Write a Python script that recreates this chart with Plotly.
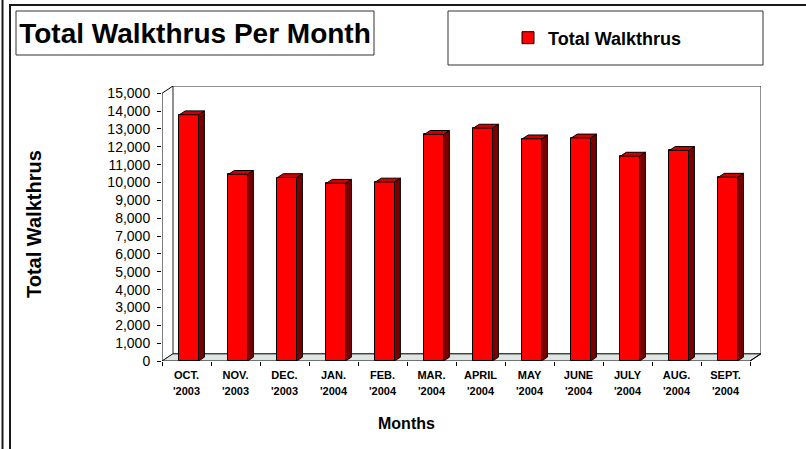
import plotly.graph_objects as go

# ---- data ----
months = ["OCT.", "NOV.", "DEC.", "JAN.", "FEB.", "MAR.", "APRIL", "MAY", "JUNE", "JULY", "AUG.", "SEPT."]
years = ["'2003", "'2003", "'2003", "'2004", "'2004", "'2004", "'2004", "'2004", "'2004", "'2004", "'2004", "'2004"]
walkthrus = [13800, 10460, 10280, 9960, 10030, 12700, 13050, 12450, 12500, 11480, 11800, 10300]
y_ticks = list(range(0, 15001, 1000))

# ---- geometry (3D look) ----
W, H = 806, 449
n = len(months)
xs = list(range(n))
dx, dy = 0.2245, 409          # wall depth offset (data units)
bw = 0.39                      # bar width
bshift = 0.05                  # bar shift to right
bdx, bdy = 0.12, 215           # bar depth offset
ymax = 15000

FONT = "Liberation Sans, Arial, sans-serif"

def px(x):
    return x / W

def py(y):
    return 1 - y / H

fig = go.Figure()

# front faces
fig.add_trace(go.Bar(
    x=xs, y=walkthrus, width=bw, offset=-bw / 2 + bshift,
    marker=dict(color="#ff0000", line=dict(color="#000000", width=1)),
    name="Total Walkthrus", showlegend=True, hoverinfo="skip",
))

# side faces and top faces
sx, sy, tx, ty = [], [], [], []
for i, v in zip(xs, walkthrus):
    r = i + bshift + bw / 2
    l = i + bshift - bw / 2
    sx += [r, r + bdx, r + bdx, r, r, None]
    sy += [0, bdy, v + bdy, v, 0, None]
    tx += [l, r, r + bdx, l + bdx, l, None]
    ty += [v, v, v + bdy, v + bdy, v, None]
fig.add_trace(go.Scatter(x=sx, y=sy, mode="lines", fill="toself", fillcolor="#7a0000",
                         line=dict(color="#000000", width=1), showlegend=False, hoverinfo="skip"))
fig.add_trace(go.Scatter(x=tx, y=ty, mode="lines", fill="toself", fillcolor="#d00000",
                         line=dict(color="#000000", width=1), showlegend=False, hoverinfo="skip"))

x0, x1 = -0.5, n - 0.5
shapes = [
    # floor
    dict(type="path", xref="x", yref="y", layer="below",
         path=f"M{x0},0 L{x1},0 L{x1+dx},{dy} L{x0+dx},{dy} Z",
         fillcolor="#dfe5e2", line=dict(color="#000000", width=1)),
    # back wall
    dict(type="rect", xref="x", yref="y", layer="below",
         x0=x0 + dx, x1=x1 + dx, y0=dy, y1=ymax + dy,
         fillcolor="#ffffff", line=dict(color="#222222", width=1)),
    # value axis line with slant to wall
    dict(type="path", xref="x", yref="y", layer="above",
         path=f"M{x0},0 L{x0},{ymax} L{x0+dx},{ymax+dy}",
         line=dict(color="#000000", width=1)),
    # right floor edge
    dict(type="line", xref="x", yref="y", x0=x1, y0=0, x1=x1 + dx, y1=dy,
         line=dict(color="#000000", width=1)),
    # outer frame lines
    dict(type="line", xref="paper", yref="paper", x0=px(2.5), x1=px(2.5), y0=0, y1=1,
         line=dict(color="#1a1a1a", width=2)),
    dict(type="line", xref="paper", yref="paper", x0=px(10), x1=px(10), y0=0, y1=py(4),
         line=dict(color="#1a1a1a", width=2)),
    dict(type="line", xref="paper", yref="paper", x0=px(9), x1=1, y0=py(5), y1=py(5),
         line=dict(color="#1a1a1a", width=2)),
    # title box
    dict(type="rect", xref="paper", yref="paper", x0=px(16), x1=px(374), y0=py(55), y1=py(11),
         line=dict(color="#333333", width=1)),
    # legend box
    dict(type="rect", xref="paper", yref="paper", x0=px(448), x1=px(763), y0=py(65), y1=py(11),
         line=dict(color="#333333", width=1)),
]

annotations = [
    dict(text="<b>Total Walkthrus</b>", xref="paper", yref="paper", x=px(34), y=py(224),
         textangle=-90, showarrow=False, font=dict(family=FONT, size=20, color="#000000"),
         xanchor="center", yanchor="middle"),
    dict(text="<b>Months</b>", xref="paper", yref="paper", x=px(406), y=py(423),
         showarrow=False, font=dict(family=FONT, size=16, color="#000000"),
         xanchor="center", yanchor="middle"),
]

fig.update_layout(
    width=W, height=H, autosize=False,
    margin=dict(l=0, r=0, t=0, b=0, pad=0, autoexpand=False),
    paper_bgcolor="#ffffff", plot_bgcolor="rgba(0,0,0,0)",
    title=dict(text="<b>Total Walkthrus Per Month</b>", x=px(195), y=py(33),
               xanchor="center", yanchor="middle", xref="paper", yref="paper",
               automargin=False,
               font=dict(family=FONT, size=28, color="#000000")),
    showlegend=True,
    legend=dict(x=px(508), y=py(38), xanchor="left", yanchor="middle",
                bgcolor="rgba(0,0,0,0)", borderwidth=0,
                font=dict(family=FONT, size=18, color="#000000", weight="bold")),
    shapes=shapes,
    annotations=annotations,
    bargap=0,
    xaxis=dict(domain=[px(162), px(761)], range=[x0, x1 + dx], anchor="y",
               tickmode="array", tickvals=xs, ticktext=months, ticks="",
               tickfont=dict(family=FONT, size=11, color="#000000", weight="bold"),
               ticklabelstandoff=6, automargin=False,
               minor=dict(tickmode="array", tickvals=[i - 0.5 for i in range(n + 1)],
                          ticks="outside", ticklen=4, tickcolor="#000000", tickwidth=1),
               showgrid=False, zeroline=False, showline=False, fixedrange=True),
    xaxis2=dict(overlaying="x", matches="x", anchor="y", side="bottom",
                tickmode="array", tickvals=xs, ticktext=years, ticks="",
                tickfont=dict(family=FONT, size=11, color="#000000", weight="bold"),
                ticklabelstandoff=22, automargin=False,
                showgrid=False, zeroline=False, showline=False),
    yaxis=dict(domain=[py(361), py(86)], range=[0, ymax + dy], anchor="x",
               tickmode="array", tickvals=y_ticks, tickformat=",",
               ticks="outside", ticklen=4, tickcolor="#000000", ticklabelstandoff=4,
               tickfont=dict(family=FONT, size=14, color="#000000"), automargin=False,
               showgrid=False, zeroline=False, showline=False, fixedrange=True),
)

# dummy trace for xaxis2 so it renders
fig.add_trace(go.Scatter(x=[xs[0]], y=[None], xaxis="x2", yaxis="y", showlegend=False,
                         hoverinfo="skip", mode="markers"))

fig.write_html("out.html", config={"displayModeBar": False, "responsive": False},
               post_script="document.body.style.margin='0';")
